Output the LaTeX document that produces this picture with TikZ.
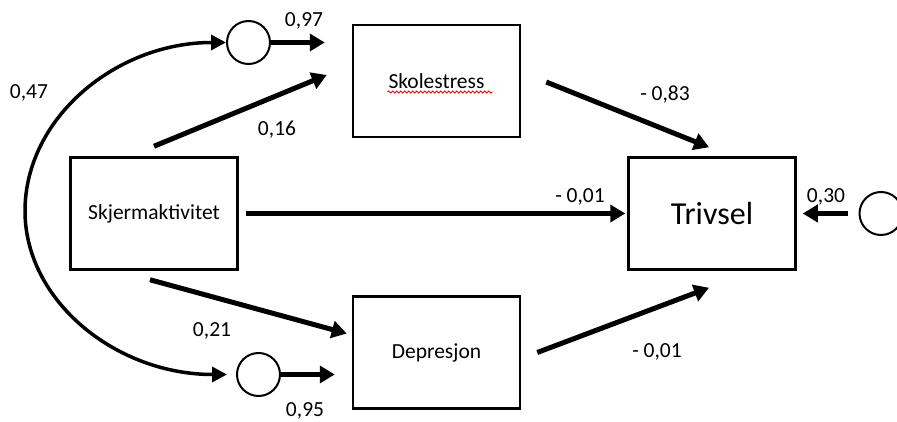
\documentclass[tikz,border=0pt]{standalone}
\usepackage{fontspec}
\setmainfont{Carlito}
\usetikzlibrary{arrows.meta,calc,decorations.pathmorphing}

\begin{document}
\begin{tikzpicture}[
  x=1pt, y=-1pt,
  box/.style={draw, line width=2.5pt, minimum width=167pt, minimum height=112pt, font=\fontsize{21.5}{24}\selectfont},
  latent/.style={draw, circle, line width=2pt, minimum size=43pt, inner sep=0pt},
  coef/.style={inner sep=0pt, font=\fontsize{21.5}{24}\selectfont},
  effect/.style={line width=5pt, -{Triangle[length=15pt,width=17pt]}},
  resid/.style={line width=4.6pt, -{Triangle[length=15pt,width=17pt]}},
  corr/.style={line width=3.5pt, {Triangle[length=15pt,width=15pt]}-{Triangle[length=15pt,width=15pt]}},
  spell/.style={draw=red, line width=0.9pt, decorate, decoration={snake, amplitude=1pt, segment length=4pt}}
]
\useasboundingbox (0,0) rectangle (897,422);

\node[box] (sko) at (436.5,81) {Skolestress};
\node[box] (skj) at (154,213.5) {Skjermaktivitet};
\node[box, font=\fontsize{32}{36}\selectfont] (triv) at (712,213.5) {Trivsel};
\node[box] (dep) at (436.5,352.5) {Depresjon};

\node[latent] (e1) at (248.5,42.5) {};
\node[latent] (e2) at (258.5,374.5) {};
\node[latent] (e3) at (881,213.5) {};
\coordinate (bend) at (25,211);

\draw[spell] ($(sko.center)+(-49,11)$) -- ($(sko.center)+(56,11)$);

\draw[corr, shorten >=9pt] (e1.west) .. controls (116,42.5) and (25,118) .. (bend)
  .. controls (25,301) and (116,374.5) .. (e2.west);
\draw[resid, shorten >=27pt] (e1.east) -- (e1 -| sko.west);
\draw[resid, shorten >=17pt] (e2.east) -- (e2 -| dep.west);
\draw[resid, shorten <=11pt, shorten >=6pt] (e3.west) -- (triv.east);

\draw[effect] ($(skj.north)+(0,-10)$) -- ($(sko.west)+(-25,-6)$);
\draw[effect] ($(sko.east)+(25,1)$) -- ($(triv.north)+(-3,-9)$);
\draw[effect, shorten <=7pt, shorten >=2pt] (skj.east) -- (triv.west);
\draw[effect] ($(skj.south)+(-4,9)$) -- ($(dep.west)+(-5,-19)$);
\draw[effect] ($(dep.east)+(16,0)$) -- ($(triv.south)+(-3,17)$);

\node[coef] (c47) at (29,93) {0,47};
\node[coef] (c97) at (304,21) {0,97};
\node[coef] (c16) at (277,130) {0,16};
\node[coef] (c83) at (665,95) {- 0,83};
\node[coef] (c01a) at (580,197) {- 0,01};
\node[coef] (c30) at (826,197) {0,30};
\node[coef] (c21) at (212,331) {0,21};
\node[coef] (c95) at (305,411) {0,95};
\node[coef] (c01b) at (657,352) {- 0,01};
\end{tikzpicture}
\end{document}
